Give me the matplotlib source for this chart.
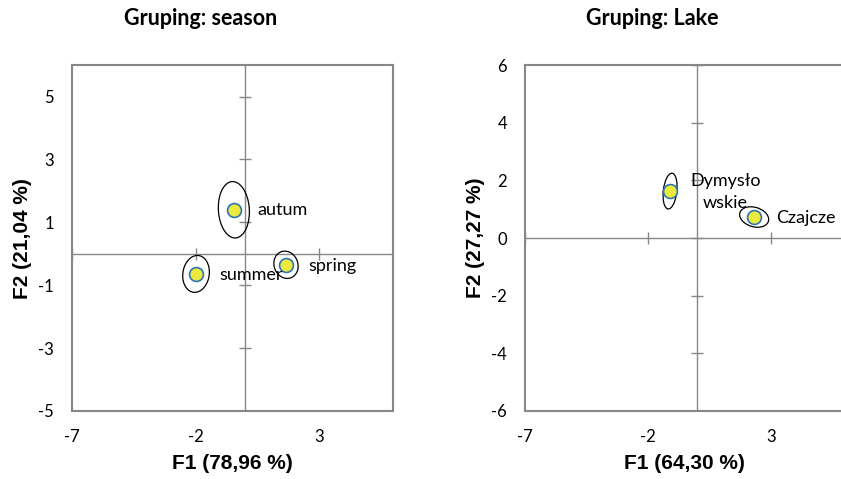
import matplotlib.pyplot as plt
from matplotlib.patches import Ellipse

plt.rcParams['axes.unicode_minus'] = False

# panel 1: grouping by season
season_names = ['autum', 'summer', 'spring']
season_f1 = [-0.45, -1.98, 1.66]
season_f2 = [1.40, -0.64, -0.35]
season_ell_w = [1.25, 1.05, 1.00]
season_ell_h = [1.80, 1.20, 0.85]
season_ell_ang = [6, -25, -20]
season_xlabel = 'F1 (78,96 %)'
season_ylabel = 'F2 (21,04 %)'
season_xticks = [-7, -2, 3]
season_yticks = [-5, -3, -1, 1, 3, 5]

# panel 2: grouping by lake
lake_names = ['Dymysło\nwskie', 'Czajcze']
lake_f1 = [-1.10, 2.32]
lake_f2 = [1.63, 0.73]
lake_ell_w = [0.55, 1.20]
lake_ell_h = [1.25, 0.68]
lake_ell_ang = [-8, -12]
lake_xlabel = 'F1 (64,30 %)'
lake_ylabel = 'F2 (27,27 %)'
lake_xticks = [-7, -2, 3]
lake_yticks = [-6, -4, -2, 0, 2, 4, 6]

GRAY = '#878787'
TXT = 'Lato'
AX_FONT = 'Liberation Sans'

fig = plt.figure(figsize=(8.41, 4.79), dpi=100)
ax1 = fig.add_axes([0.0856, 0.142, 0.382, 0.722])
ax2 = fig.add_axes([0.6243, 0.142, 0.380, 0.722])


def draw_panel(ax, f1, f2, ew, eh, ea, xticks, yticks, ylim, xlabel, ylabel):
    ax.set_xlim(-7, 6)
    ax.set_ylim(*ylim)
    for s in ax.spines.values():
        s.set_color(GRAY)
        s.set_linewidth(1.5)
    ax.axhline(0, color=GRAY, lw=1, zorder=1)
    ax.axvline(0, color=GRAY, lw=1, zorder=1)
    # little cross ticks on the centre lines
    ax.plot([0] * len(yticks), yticks, ls='none', marker='_', ms=8,
            mew=1, color=GRAY, zorder=1)
    ax.plot(xticks, [0] * len(xticks), ls='none', marker='|', ms=8,
            mew=1, color=GRAY, zorder=1)
    for x, y, w, h, a in zip(f1, f2, ew, eh, ea):
        ax.add_patch(Ellipse((x, y), w, h, angle=a, fill=False,
                             ec='black', lw=0.9, zorder=2))
    ax.plot(f1, f2, ls='none', marker='o', ms=10, mfc='#ecea3c',
            mec='#2e75b6', mew=1.2, zorder=3)
    ax.set_xticks(xticks)
    ax.set_yticks(yticks)
    ax.tick_params(length=0, pad=13, labelsize=12)
    for lab in ax.get_xticklabels() + ax.get_yticklabels():
        lab.set_family(TXT)
    ax.set_xlabel(xlabel, fontsize=15, fontweight='bold', family=AX_FONT)
    ax.set_ylabel(ylabel, fontsize=15, fontweight='bold', family=AX_FONT)
    ax.xaxis.set_label_coords(0.5, -0.125)
    ax.yaxis.set_label_coords(-0.125, 0.5)


draw_panel(ax1, season_f1, season_f2, season_ell_w, season_ell_h,
           season_ell_ang, season_xticks, season_yticks, (-5, 6),
           season_xlabel, season_ylabel)
draw_panel(ax2, lake_f1, lake_f2, lake_ell_w, lake_ell_h,
           lake_ell_ang, lake_xticks, lake_yticks, (-6, 6),
           lake_xlabel, lake_ylabel)

# point labels
ax1.text(0.5, 1.40, season_names[0], fontsize=13, family=TXT, va='center')
ax1.text(-1.05, -0.67, season_names[1], fontsize=13, family=TXT, va='center')
ax1.text(2.55, -0.40, season_names[2], fontsize=13, family=TXT, va='center')
ax2.text(1.14, 1.60, lake_names[0], fontsize=13, family=TXT, va='center',
         ha='center', multialignment='center', linespacing=1.5)
ax2.text(3.2, 0.70, lake_names[1], fontsize=13, family=TXT, va='center')

fig.text(0.238, 0.962, 'Gruping: season', fontsize=15.5, fontweight='bold',
         family=TXT, ha='center', va='center')
fig.text(0.776, 0.962, 'Gruping: Lake', fontsize=15.5, fontweight='bold',
         family=TXT, ha='center', va='center')

fig.savefig('out.png', dpi=100)
